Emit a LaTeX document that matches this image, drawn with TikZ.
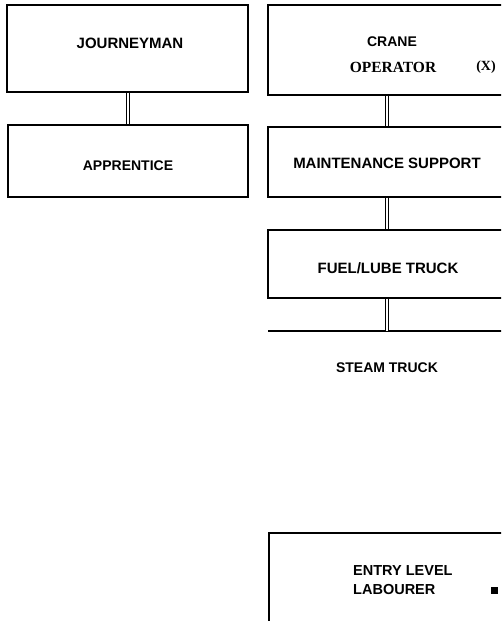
\documentclass[tikz,border=0pt]{standalone}
\usepackage{fontspec}
\setmainfont{Liberation Sans}
\newfontfamily\serifbf{Liberation Serif}
\usetikzlibrary{positioning}

\begin{document}
\begin{tikzpicture}[x=1pt,y=-1pt,
  lbl/.style={font=\fontsize{14}{19}\selectfont\bfseries,inner sep=0pt},
  big/.style={lbl,font=\fontsize{15}{19}\selectfont\bfseries},
  bx/.style={draw,line width=1.5pt,inner sep=0pt},
  edge/.style={line width=1.5pt},
  lnk/.style={double,double distance=1.8pt,line width=0.7pt}]
 \useasboundingbox (0,0) rectangle (501,621);
 \clip (0,0) rectangle (501,621);
 % left column
 \node[bx,minimum width=241pt,minimum height=87pt] (jm) at (127.5,48.5) {};
 \node[big] (jmt) at (130,43) {JOURNEYMAN};
 \node[bx,minimum width=240pt,minimum height=72pt] (ap) at (128,161) {};
 \node[lbl] (apt) at (128,166) {APPRENTICE};
 \draw[lnk] (jm.south -| apt) -- (ap.north -| apt);
 % right column
 \node[bx,minimum width=260pt,minimum height=90pt] (crane) at (398,50) {};
 \node[lbl] (cr1) at (392,42) {CRANE};
 \node[font=\fontsize{15.5}{17}\selectfont\serifbf\bfseries,inner sep=0pt] (cr2) at (393,67) {OPERATOR};
 \node[font=\fontsize{14}{17}\selectfont\serifbf\bfseries,inner sep=0pt] (crx) at (486,67) {(X)};
 \node[bx,minimum width=260pt,minimum height=70pt] (mnt) at (398,162) {};
 \node[big] (mntt) at (387,163) {MAINTENANCE SUPPORT};
 \node[bx,minimum width=260pt,minimum height=68pt] (fuel) at (398,264) {};
 \node[big] (fuelt) at (388,268) {FUEL/LUBE TRUCK};
 \coordinate (stt) at (387,331);
 \draw[edge] (268,331) -- (520,331);
 \node[lbl] (steam) at (387,368) {STEAM TRUCK};
 \node[bx,minimum width=260pt,minimum height=120pt] (entry) at (399,593) {};
 \node[lbl,font=\fontsize{14.5}{19}\selectfont\bfseries,align=left,anchor=west] (ent) at (353,580) {ENTRY LEVEL\\LABOURER};
 \node[fill,minimum size=7pt,inner sep=0pt] (mk) at (494,590) {};
 \draw[lnk] (crane.south -| stt) -- (mnt.north -| stt);
 \draw[lnk] (mnt.south -| stt) -- (fuel.north -| stt);
 \draw[lnk] (fuel.south -| stt) -- (stt);
\end{tikzpicture}
\end{document}
